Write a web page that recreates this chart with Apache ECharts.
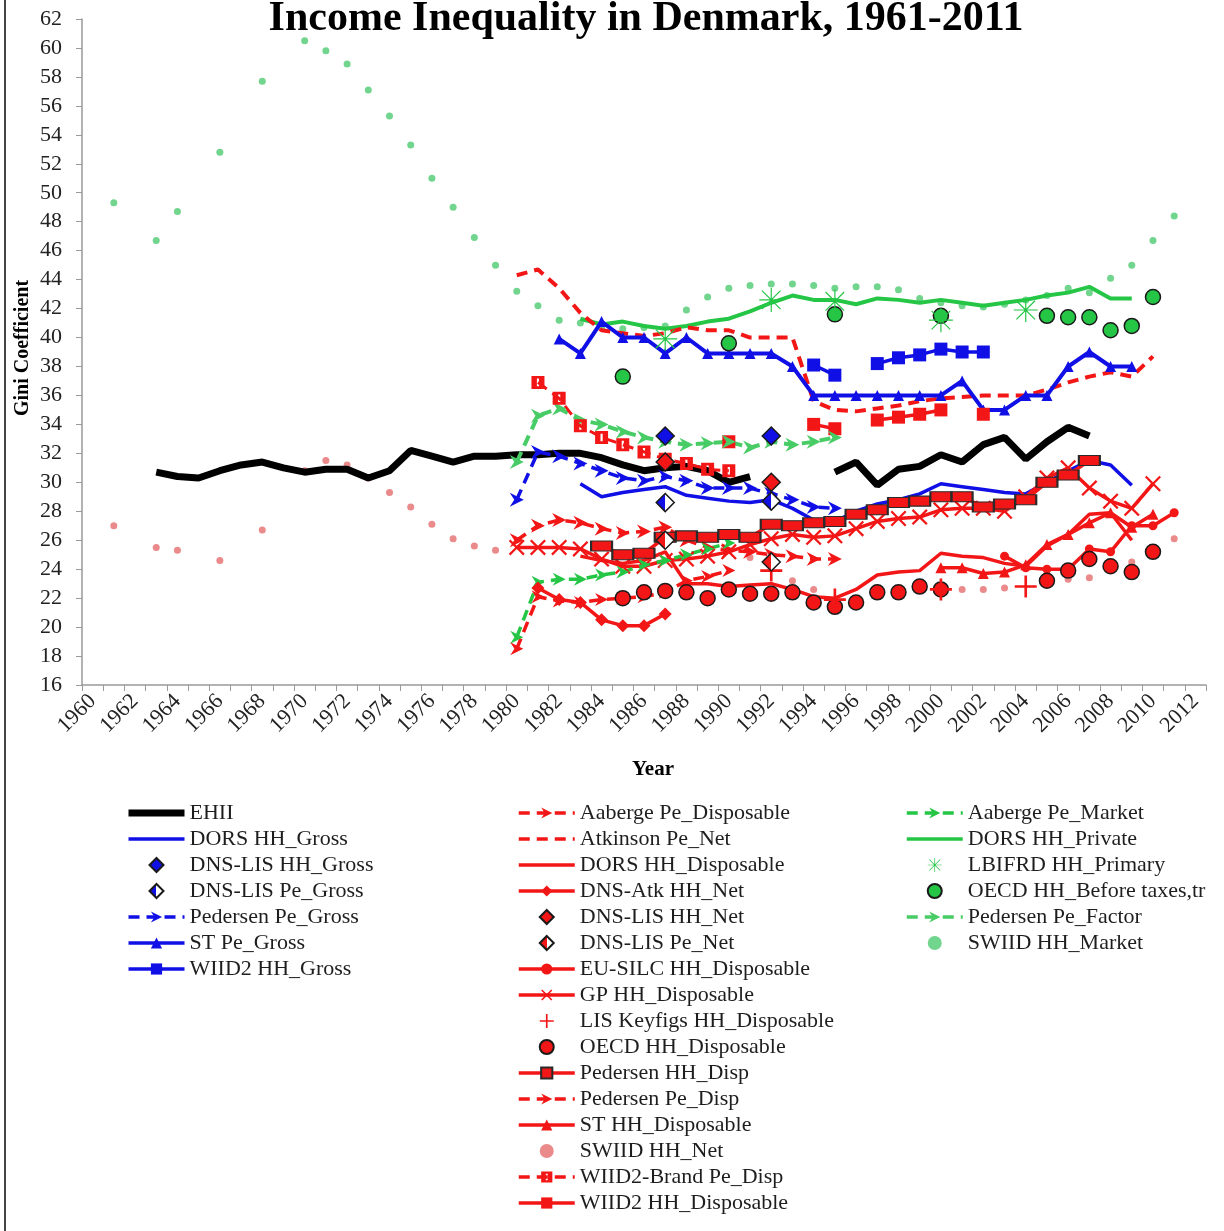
<!DOCTYPE html>
<html>
<head>
<meta charset="utf-8">
<script src="https://cdn.jsdelivr.net/npm/echarts@6/dist/echarts.min.js"></script>
<style>
html,body{margin:0;padding:0;background:#fff}
#main{width:1224px;height:1231px}
</style>
</head>
<body>
<div id="main"></div>
<script>
// years on the category axis
var years = [];
for (var y = 1960; y <= 2012; y++) years.push(String(y));

// [year, gini] pairs, null = break in the line
var ehii = [[1963,30.7],[1964,30.4],[1965,30.3],[1966,30.8],[1967,31.2],[1968,31.4],[1969,31.0],[1970,30.7],[1971,30.9],[1972,30.9],[1973,30.3],[1974,30.8],[1975,32.2],[1976,31.8],[1977,31.4],[1978,31.8],[1979,31.8],[1980,31.9],[1981,31.9],[1982,32.0],[1983,32.0],[1984,31.7],[1985,31.2],[1986,30.8],[1987,31.0],[1988,31.1],[1989,30.8],[1990,30.0],[1991,30.4],[1992,null],[1995,30.7],[1996,31.4],[1997,29.8],[1998,30.9],[1999,31.1],[2000,31.9],[2001,31.4],[2002,32.6],[2003,33.1],[2004,31.6],[2005,32.8],[2006,33.8],[2007,33.2]];
var dorsGross = [[1983,29.9],[1984,29.0],[1985,29.3],[1986,29.5],[1987,29.7],[1988,29.1],[1989,28.9],[1990,28.7],[1991,28.6],[1992,28.8],[1993,28.2],[1994,27.4],[1995,27.3],[1996,28.0],[1997,28.5],[1998,28.8],[1999,29.2],[2000,29.9],[2001,29.7],[2002,29.5],[2003,29.3],[2004,29.2],[2005,30.0],[2006,30.8],[2007,31.5],[2008,31.2],[2009,29.8]];
var dnsLisHHGross = [[1987,33.2],[1992,33.2]];
var dnsLisPeGross = [[1987,28.6],[1992,28.7]];
var pedersenPeGross = [[1980,28.8],[1981,32.1],[1982,31.8],[1983,31.3],[1984,30.8],[1985,30.3],[1986,30.1],[1987,30.4],[1988,30.1],[1989,29.6],[1990,29.6],[1991,29.6],[1992,29.2],[1993,28.8],[1994,28.3],[1995,28.2]];
var stPeGross = [[1982,39.9],[1983,38.9],[1984,41.1],[1985,40.0],[1986,40.0],[1987,38.9],[1988,40.0],[1989,38.9],[1990,38.9],[1991,38.9],[1992,38.9],[1993,38.0],[1994,36.0],[1995,36.0],[1996,36.0],[1997,36.0],[1998,36.0],[1999,36.0],[2000,36.0],[2001,37.0],[2002,35.0],[2003,35.0],[2004,36.0],[2005,36.0],[2006,38.0],[2007,39.0],[2008,38.0],[2009,38.0]];
var wiid2HHGross = [[1994,38.1],[1995,37.4],[1996,null],[1997,38.2],[1998,38.6],[1999,38.8],[2000,39.2],[2001,39.0],[2002,39.0]];

var aabergePeDisp = [[1980,18.5],[1981,22.1],[1982,21.8],[1983,21.7],[1984,21.9],[1985,22.0],[1986,22.1],[1987,22.4],[1988,23.2],[1989,23.5],[1990,23.9]];
var atkinsonPeNet = [[1980,44.3],[1981,44.7],[1982,43.4],[1983,41.7],[1984,40.5],[1985,40.3],[1986,40.1],[1987,40.3],[1988,40.7],[1989,40.5],[1990,40.5],[1991,40.0],[1992,40.0],[1993,40.0],[1994,35.6],[1995,35.0],[1996,34.9],[1997,35.1],[1998,35.3],[1999,35.6],[2000,35.8],[2001,35.9],[2002,36.0],[2003,36.0],[2004,36.0],[2005,36.4],[2006,36.9],[2007,37.3],[2008,37.6],[2009,37.3],[2010,38.7]];
var dorsHHDisp = [[1983,24.9],[1984,24.6],[1985,24.4],[1986,24.6],[1987,25.2],[1988,23.0],[1989,23.0],[1990,22.8],[1991,22.9],[1992,23.0],[1993,22.6],[1994,22.1],[1995,22.0],[1996,22.6],[1997,23.6],[1998,23.8],[1999,23.9],[2000,25.1],[2001,24.9],[2002,24.8],[2003,24.4],[2004,24.2],[2005,25.6],[2006,26.4],[2007,27.8],[2008,27.9],[2009,26.0]];
var dnsAtkHHNet = [[1981,22.7],[1982,21.9],[1983,21.7],[1984,20.5],[1985,20.1],[1986,20.1],[1987,20.9]];
var dnsLisHHNet = [[1987,31.4],[1992,30.0]];
var dnsLisPeNet = [[1987,26.0],[1992,24.5]];
var euSilc = [[2003,24.9],[2004,24.1],[2005,24.0],[2006,24.0],[2007,25.4],[2008,25.2],[2009,27.0],[2010,27.0],[2011,27.9]];
var gpHHDisp = [[1980,25.5],[1981,25.5],[1982,25.5],[1983,25.4],[1984,24.7],[1985,24.2],[1986,24.2],[1987,24.6],[1988,24.7],[1989,24.9],[1990,25.2],[1991,25.7],[1992,26.1],[1993,26.4],[1994,26.2],[1995,26.3],[1996,26.8],[1997,27.3],[1998,27.5],[1999,27.6],[2000,28.1],[2001,28.2],[2002,28.2],[2003,28.0],[2004,29.0],[2005,30.3],[2006,31.0],[2007,29.6],[2008,28.7],[2009,28.2],[2010,29.9]];
var lisKeyfigs = [[1992,23.9],[1995,21.9],[2000,22.6],[2004,22.8]];
var oecdDisp = [[1985,22.0],[1986,22.4],[1987,22.5],[1988,22.4],[1989,22.0],[1990,22.6],[1991,22.3],[1992,22.3],[1993,22.4],[1994,21.7],[1995,21.4],[1996,21.7],[1997,22.4],[1998,22.4],[1999,22.8],[2000,22.6],[2005,23.2],[2006,23.9],[2007,24.7],[2008,24.2],[2009,23.8],[2010,25.2]];
var pedersenHHDisp = [[1984,25.6],[1985,25.0],[1986,25.1],[1987,26.2],[1988,26.3],[1989,26.2],[1990,26.4],[1991,26.2],[1992,27.1],[1993,27.0],[1994,27.2],[1995,27.3],[1996,27.8],[1997,28.1],[1998,28.6],[1999,28.7],[2000,29.0],[2001,29.0],[2002,28.3],[2003,28.5],[2004,28.8],[2005,30.0],[2006,30.5],[2007,31.5]];
var pedersenPeDisp = [[1980,26.0],[1981,27.0],[1982,27.4],[1983,27.2],[1984,26.8],[1985,26.5],[1986,26.6],[1987,26.9],[1988,26.0],[1989,25.5],[1990,25.3],[1991,25.2],[1992,25.0],[1993,24.9],[1994,24.7],[1995,24.7]];
var stHHDisp = [[2000,24.1],[2001,24.1],[2002,23.7],[2003,23.8],[2004,24.3],[2005,25.7],[2006,26.4],[2007,27.2],[2008,27.9],[2009,26.9],[2010,27.8]];
var swiidNet = [[1961,27.0],[1963,25.5],[1964,25.3],[1966,24.6],[1968,26.7],[1970,30.8],[1971,31.5],[1972,31.2],[1973,30.3],[1974,29.3],[1975,28.3],[1976,27.1],[1977,26.1],[1978,25.6],[1979,25.3],[1991,24.8],[1993,23.2],[1994,22.6],[2001,22.6],[2002,22.6],[2003,22.7],[2006,23.3],[2007,23.4],[2009,24.5],[2011,26.1]];
var wiid2Brand = [[1981,36.9],[1982,35.8],[1983,33.9],[1984,33.1],[1985,32.6],[1986,32.1],[1987,31.6],[1988,31.3],[1989,30.9],[1990,30.8]];
var wiid2HHDisp = [[1990,32.8],[1991,null],[1994,34.0],[1995,33.7],[1996,null],[1997,34.3],[1998,34.5],[1999,34.7],[2000,35.0],[2001,null],[2002,34.7]];

var aabergeMarket = [[1980,19.3],[1981,23.1],[1982,23.3],[1983,23.3],[1984,23.6],[1985,23.8],[1986,24.3],[1987,24.6],[1988,25.0],[1989,25.4],[1990,25.8]];
var dorsPrivate = [[1983,41.3],[1984,40.9],[1985,41.1],[1986,40.8],[1987,40.6],[1988,40.8],[1989,41.1],[1990,41.3],[1991,41.8],[1992,42.4],[1993,42.9],[1994,42.6],[1995,42.6],[1996,42.3],[1997,42.7],[1998,42.6],[1999,42.4],[2000,42.6],[2001,42.4],[2002,42.2],[2003,42.4],[2004,42.6],[2005,42.9],[2006,43.1],[2007,43.5],[2008,42.7],[2009,42.7]];
var lbifrd = [[1987,39.9],[1992,42.6],[1995,42.5],[2000,41.2],[2004,41.9]];
var oecdBefore = [[1985,37.3],[1990,39.6],[1995,41.6],[2000,41.5],[2005,41.5],[2006,41.4],[2007,41.4],[2008,40.5],[2009,40.8],[2010,42.8]];
var pedersenFactor = [[1980,31.4],[1981,34.6],[1982,35.1],[1983,34.3],[1984,34.0],[1985,33.5],[1986,33.1],[1987,32.8],[1988,32.6],[1989,32.7],[1990,32.8],[1991,32.4],[1992,32.8],[1993,32.6],[1994,32.8],[1995,33.1]];
var swiidMarket = [[1961,49.3],[1963,46.7],[1964,48.7],[1966,52.8],[1968,57.7],[1970,60.5],[1971,59.8],[1972,58.9],[1973,57.1],[1974,55.3],[1975,53.3],[1976,51.0],[1977,49.0],[1978,46.9],[1979,45.0],[1980,43.2],[1981,42.2],[1982,41.2],[1983,41.0],[1984,40.7],[1985,40.6],[1986,40.7],[1987,40.8],[1988,41.9],[1989,42.8],[1990,43.4],[1991,43.6],[1992,43.7],[1993,43.7],[1994,43.6],[1995,43.4],[1996,43.5],[1997,43.5],[1998,43.3],[1999,42.7],[2000,42.4],[2001,42.2],[2002,42.1],[2003,42.3],[2004,42.6],[2005,42.9],[2006,43.4],[2007,43.1],[2008,44.1],[2009,45.0],[2010,46.7],[2011,48.4]];

var legendCol1 = ['EHII','DORS HH_Gross','DNS-LIS HH_Gross','DNS-LIS Pe_Gross','Pedersen Pe_Gross','ST Pe_Gross','WIID2 HH_Gross'];
var legendCol2 = ['Aaberge Pe_Disposable','Atkinson Pe_Net','DORS HH_Disposable','DNS-Atk HH_Net','DNS-LIS HH_Net','DNS-LIS Pe_Net','EU-SILC HH_Disposable','GP HH_Disposable','LIS Keyfigs HH_Disposable','OECD HH_Disposable','Pedersen HH_Disp','Pedersen Pe_Disp','ST HH_Disposable','SWIID HH_Net','WIID2-Brand Pe_Disp','WIID2 HH_Disposable'];
var legendCol3 = ['Aaberge Pe_Market','DORS HH_Private','LBIFRD HH_Primary','OECD HH_Before taxes,tr','Pedersen Pe_Factor','SWIID HH_Market'];
var plainLines = ['EHII','DORS HH_Gross','Atkinson Pe_Net','DORS HH_Disposable','DORS HH_Private'];

var FONT = 'Liberation Serif';
var RED = '#f31616', BLUE = '#1010e6', GREEN = '#25c646', LGREEN = '#47cc66';

// marker shapes
var X_SYM = 'path://M0,2L2,0L10,8L18,0L20,2L12,10L20,18L18,20L10,12L2,20L0,18L8,10Z';
var PLUS_SYM = 'path://M8.8,0H11.2V8.8H20V11.2H11.2V20H8.8V11.2H0V8.8H8.8Z';
var AST_SYM = 'path://M9.5,0H10.5V20H9.5Z M2.6,1.9L18.1,17.4L17.4,18.1L1.9,2.6Z M17.4,1.9L18.1,2.6L2.6,18.1L1.9,17.4Z M0,9.5H20V10.5H0Z';
var ARROW_SYM = 'path://M0,0L14,7L0,14L4.5,7Z';
var BRAND_SYM = 'path://M0,0H12V12H0Z M5,2.5V9.5H7V2.5Z';
var DIAMOND_SYM = 'path://M10,0L20,10L10,20L0,10Z';

function pairs(d) {
  return d.map(function (p) { return [String(p[0]), p[1] == null ? '-' : p[1]]; });
}
function half(c) {
  return {type: 'linear', x: 0, y: 0, x2: 1, y2: 0,
    colorStops: [{offset: 0, color: c}, {offset: 0.5, color: c}, {offset: 0.5, color: '#fff'}, {offset: 1, color: '#fff'}]};
}
function line(name, data, color, o) {
  o = o || {};
  return {
    name: name, type: 'line', data: pairs(data), connectNulls: false, showAllSymbol: true,
    symbol: o.symbol || 'none', symbolSize: o.size || 10, symbolKeepAspect: true,
    lineStyle: {color: color, width: o.width || 3.5, type: o.dash ? [11, 7] : 'solid'},
    itemStyle: {color: o.fill || color, borderColor: o.border || color, borderWidth: o.border ? 1.5 : 0},
    z: o.z || 2
  };
}
function dots(name, data, color, o) {
  o = o || {};
  return {
    name: name, type: 'scatter', data: pairs(data),
    symbol: o.symbol || 'circle', symbolSize: o.size || 7, symbolKeepAspect: true,
    itemStyle: {color: o.fill || color, borderColor: o.border || color, borderWidth: o.border ? 1.5 : 0, opacity: 1},
    z: o.z || 4
  };
}

var series = [
  dots('SWIID HH_Market', swiidMarket, '#72d58e', {size: 7, z: 1}),
  dots('SWIID HH_Net', swiidNet, '#ea8a8a', {size: 7, z: 1}),
  line('EHII', ehii, '#000', {width: 7}),
  line('DORS HH_Private', dorsPrivate, GREEN, {width: 4}),
  line('Atkinson Pe_Net', atkinsonPeNet, RED, {dash: true, width: 4}),
  line('ST Pe_Gross', stPeGross, BLUE, {symbol: 'triangle', size: 11, width: 4}),
  line('WIID2 HH_Gross', wiid2HHGross, BLUE, {symbol: 'rect', size: 13, width: 3.5}),
  line('WIID2 HH_Disposable', wiid2HHDisp, RED, {symbol: 'rect', size: 13, width: 3.5}),
  line('Pedersen Pe_Factor', pedersenFactor, LGREEN, {dash: true, symbol: ARROW_SYM, size: 14, width: 4}),
  line('WIID2-Brand Pe_Disp', wiid2Brand, RED, {dash: true, symbol: BRAND_SYM, size: 13, width: 3}),
  line('Pedersen Pe_Gross', pedersenPeGross, BLUE, {dash: true, symbol: ARROW_SYM, size: 14, width: 3.5}),
  line('DORS HH_Gross', dorsGross, BLUE, {width: 3.5}),
  line('Pedersen Pe_Disp', pedersenPeDisp, RED, {dash: true, symbol: ARROW_SYM, size: 14, width: 3.5}),
  line('GP HH_Disposable', gpHHDisp, RED, {symbol: X_SYM, size: 16, width: 3.5}),
  line('Pedersen HH_Disp', pedersenHHDisp, RED, {symbol: 'rect', size: [21, 10], border: '#2a2a2a', width: 3.5, z: 3}),
  line('Aaberge Pe_Market', aabergeMarket, GREEN, {dash: true, symbol: ARROW_SYM, size: 13, width: 3.5}),
  line('Aaberge Pe_Disposable', aabergePeDisp, RED, {dash: true, symbol: ARROW_SYM, size: 13, width: 3.5}),
  line('DORS HH_Disposable', dorsHHDisp, RED, {width: 3.5}),
  line('ST HH_Disposable', stHHDisp, RED, {symbol: 'triangle', size: 11, width: 3.5}),
  line('EU-SILC HH_Disposable', euSilc, RED, {symbol: 'circle', size: 9, width: 3.5}),
  line('DNS-Atk HH_Net', dnsAtkHHNet, RED, {symbol: 'diamond', size: 13, width: 3.5}),
  dots('OECD HH_Disposable', oecdDisp, RED, {size: 15, border: '#1a1a1a'}),
  dots('OECD HH_Before taxes,tr', oecdBefore, GREEN, {size: 15, border: '#1a1a1a'}),
  dots('LBIFRD HH_Primary', lbifrd, GREEN, {symbol: AST_SYM, size: 24}),
  dots('LIS Keyfigs HH_Disposable', lisKeyfigs, RED, {symbol: PLUS_SYM, size: 22}),
  dots('DNS-LIS HH_Gross', dnsLisHHGross, BLUE, {symbol: DIAMOND_SYM, size: 18, border: '#1a1a1a', z: 5}),
  dots('DNS-LIS Pe_Gross', dnsLisPeGross, BLUE, {symbol: DIAMOND_SYM, size: 18, fill: half(BLUE), border: '#1a1a1a', z: 5}),
  dots('DNS-LIS HH_Net', dnsLisHHNet, RED, {symbol: DIAMOND_SYM, size: 18, border: '#1a1a1a', z: 5}),
  dots('DNS-LIS Pe_Net', dnsLisPeNet, RED, {symbol: DIAMOND_SYM, size: 18, fill: half(RED), border: '#1a1a1a', z: 5})
];

function legendCol(names, left) {
  var items = names.map(function (n) {
    var it = {name: n};
    if (plainLines.indexOf(n) >= 0) it.itemStyle = {opacity: 0};
    if (n === 'EHII') it.lineStyle = {width: 7};
    return it;
  });
  return {
    data: items, orient: 'vertical', left: left, top: 800, padding: 0,
    itemWidth: 56, itemHeight: 14, itemGap: 0, selectedMode: false, symbolKeepAspect: true,
    lineStyle: {width: 3.5},
    textStyle: {fontFamily: FONT, fontSize: 22, lineHeight: 26, color: '#1e1e1e'}
  };
}

var chart = echarts.init(document.getElementById('main'));
chart.setOption({
  animation: false,
  backgroundColor: '#fff',
  grid: {left: 82, right: 18, top: 19, bottom: 546},
  legend: [legendCol(legendCol1, 125), legendCol(legendCol2, 517), legendCol(legendCol3, 905)],
  xAxis: {
    type: 'category', data: years, boundaryGap: true,
    axisLine: {lineStyle: {color: '#9a9a9a', width: 1.5}},
    axisTick: {show: true, interval: 0, length: 6, lineStyle: {color: '#9a9a9a'}},
    axisLabel: {interval: 1, rotate: 45, margin: 13, fontFamily: FONT, fontSize: 22, color: '#222'},
    splitLine: {show: false}
  },
  yAxis: {
    type: 'value', min: 16, max: 62, interval: 2,
    axisLine: {show: true, lineStyle: {color: '#9a9a9a', width: 1.5}},
    axisTick: {show: true, length: 6, lineStyle: {color: '#9a9a9a'}},
    axisLabel: {margin: 20, fontFamily: FONT, fontSize: 22, color: '#222'},
    splitLine: {show: false}
  },
  graphic: [
    {type: 'line', shape: {x1: 5, y1: 0, x2: 5, y2: 1231}, style: {stroke: '#444', lineWidth: 2}},
    {type: 'text', x: 646, y: 19, style: {text: 'Income Inequality in Denmark, 1961-2011', fontFamily: FONT, fontWeight: 'bold', fontSize: 42, fill: '#000', align: 'center', verticalAlign: 'middle'}},
    {type: 'text', x: 23, y: 348, rotation: Math.PI / 2, style: {text: 'Gini Coefficient', fontFamily: FONT, fontWeight: 'bold', fontSize: 20, fill: '#000', align: 'center', verticalAlign: 'middle'}},
    {type: 'text', x: 653, y: 770, style: {text: 'Year', fontFamily: FONT, fontWeight: 'bold', fontSize: 21, fill: '#000', align: 'center', verticalAlign: 'middle'}}
  ],
  series: series
});
</script>
</body>
</html>
